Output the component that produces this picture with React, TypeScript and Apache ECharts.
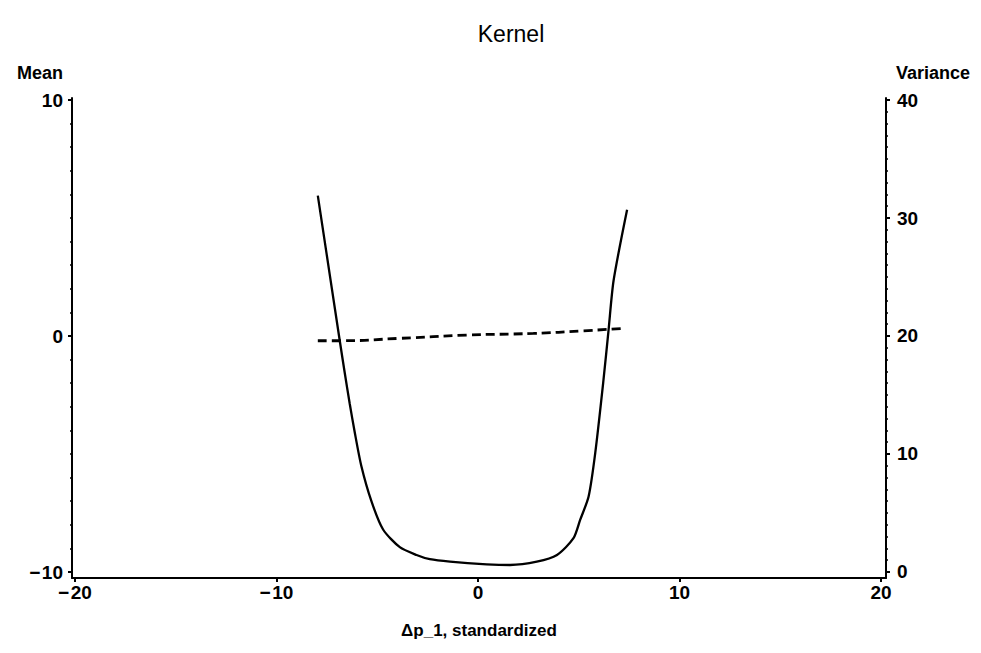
import React, { useEffect, useRef } from "react";
import * as echarts from "echarts";

// Kernel regression of the standardized price change: conditional variance (solid, right axis)
const varianceX = [-7.95, -6.87, -6.62, -6.37, -6.12, -5.79, -5.29, -4.71, -3.88, -3.05, -2.39, -1.39, 0.43, 1.59, 2.92, 3.92, 4.74, 5.07, 5.49, 5.82, 6.23, 6.48, 6.73, 7.4];
const varianceY = [31.9, 19.7, 16.95, 14.3, 11.86, 8.98, 6.0, 3.6, 2.1, 1.44, 1.08, 0.87, 0.65, 0.59, 0.87, 1.44, 2.86, 4.41, 6.4, 10.1, 16.3, 20.5, 24.7, 30.7];

// Conditional mean (dashed, left axis)
const meanX = [-7.95, -6.87, -3.88, -0.56, 2.75, 5.24, 7.2];
const meanY = [-0.2, -0.2, -0.1, 0.04, 0.11, 0.22, 0.32];

// Tick labels
const xTicks = [-20, -10, 0, 10, 20];
const meanTicks = [-10, 0, 10];
const varianceTicks = [0, 10, 20, 30, 40];

const FONT = "'Liberation Sans', Arial, Helvetica, sans-serif";
const minus = (v: number) => String(v).replace("-", "\u2212\u200A");

const range = (a: number, b: number) => {
  const out: number[] = [];
  for (let v = a; v <= b; v++) out.push(v);
  return out;
};

export default function App() {
  const ref = useRef<HTMLDivElement>(null);

  useEffect(() => {
    if (!ref.current) return;
    const chart = echarts.init(ref.current, null, { renderer: "svg" });

    const labelStyle = { color: "#000", fontFamily: FONT, fontWeight: "bold" as const, fontSize: 19 };
    const nameStyle = { color: "#000", fontFamily: FONT, fontWeight: "bold" as const, fontSize: 18 };
    const axisLine = { show: true, onZero: false, lineStyle: { color: "#000", width: 2 } };

    const meanMin = -10.254;
    const meanMax = 10.085;
    const varMin = -0.51;
    const varMax = 40.17;

    chart.setOption({
      animation: false,
      backgroundColor: "#fff",
      title: {
        text: "Kernel",
        left: 506,
        top: 17,
        textAlign: "center",
        textStyle: { color: "#000", fontFamily: FONT, fontWeight: "normal", fontSize: 23 },
      },
      grid: { left: 72, right: 95, top: 98, bottom: 75, containLabel: false, outerBoundsMode: "none" },
      xAxis: {
        type: "value",
        min: -20.15,
        max: 20.25,
        name: "\u0394p_1, standardized",
        nameLocation: "middle",
        nameGap: 44,
        nameTextStyle: { ...nameStyle, fontSize: 17 },
        axisLine,
        axisTick: { show: true, customValues: xTicks, length: 4, lineStyle: { color: "#000", width: 2 } },
        axisLabel: { ...labelStyle, customValues: xTicks, formatter: minus, margin: 5 },
        splitLine: { show: false },
      },
      yAxis: [
        {
          type: "value",
          position: "left",
          offset: 0,
          min: meanMin,
          max: meanMax,
          name: "Mean",
          nameLocation: "end",
          nameGap: 16,
          nameTextStyle: { ...nameStyle, align: "right", padding: [0, 9, 0, 0] },
          axisLine,
          axisTick: { show: true, customValues: meanTicks, length: 4, lineStyle: { color: "#000", width: 2 } },
          axisLabel: { ...labelStyle, customValues: meanTicks, formatter: minus, margin: 9 },
          splitLine: { show: false },
        },
        {
          type: "value",
          position: "left",
          offset: 0,
          min: meanMin,
          max: meanMax,
          axisLine: { show: false, onZero: false },
          axisTick: { show: true, customValues: range(-10, 10), length: 2, lineStyle: { color: "#000", width: 1.5 } },
          axisLabel: { show: false },
          splitLine: { show: false },
        },
        {
          type: "value",
          position: "right",
          offset: 0,
          min: varMin,
          max: varMax,
          name: "Variance",
          nameLocation: "end",
          nameGap: 16,
          nameTextStyle: { ...nameStyle, align: "left", padding: [0, 0, 0, 10] },
          axisLine,
          axisTick: { show: true, customValues: varianceTicks, length: 4, lineStyle: { color: "#000", width: 2 } },
          axisLabel: { ...labelStyle, customValues: varianceTicks, margin: 11 },
          splitLine: { show: false },
        },
        {
          type: "value",
          position: "right",
          offset: 0,
          min: varMin,
          max: varMax,
          axisLine: { show: false, onZero: false },
          axisTick: { show: true, customValues: range(0, 40), length: 2, lineStyle: { color: "#000", width: 1.5 } },
          axisLabel: { show: false },
          splitLine: { show: false },
        },
      ],
      series: [
        {
          name: "Variance",
          type: "line",
          yAxisIndex: 2,
          data: varianceX.map((x, i) => [x, varianceY[i]]),
          showSymbol: false,
          smooth: 0.25,
          lineStyle: { color: "#000", width: 2.3 },
        },
        {
          name: "Mean",
          type: "line",
          yAxisIndex: 0,
          data: meanX.map((x, i) => [x, meanY[i]]),
          showSymbol: false,
          smooth: true,
          lineStyle: { color: "#000", width: 2.8, type: [9, 5] },
        },
      ],
    });

    return () => chart.dispose();
  }, []);

  return <div ref={ref} style={{ position: "fixed", left: 0, top: 0, width: 981, height: 653 }} />;
}
